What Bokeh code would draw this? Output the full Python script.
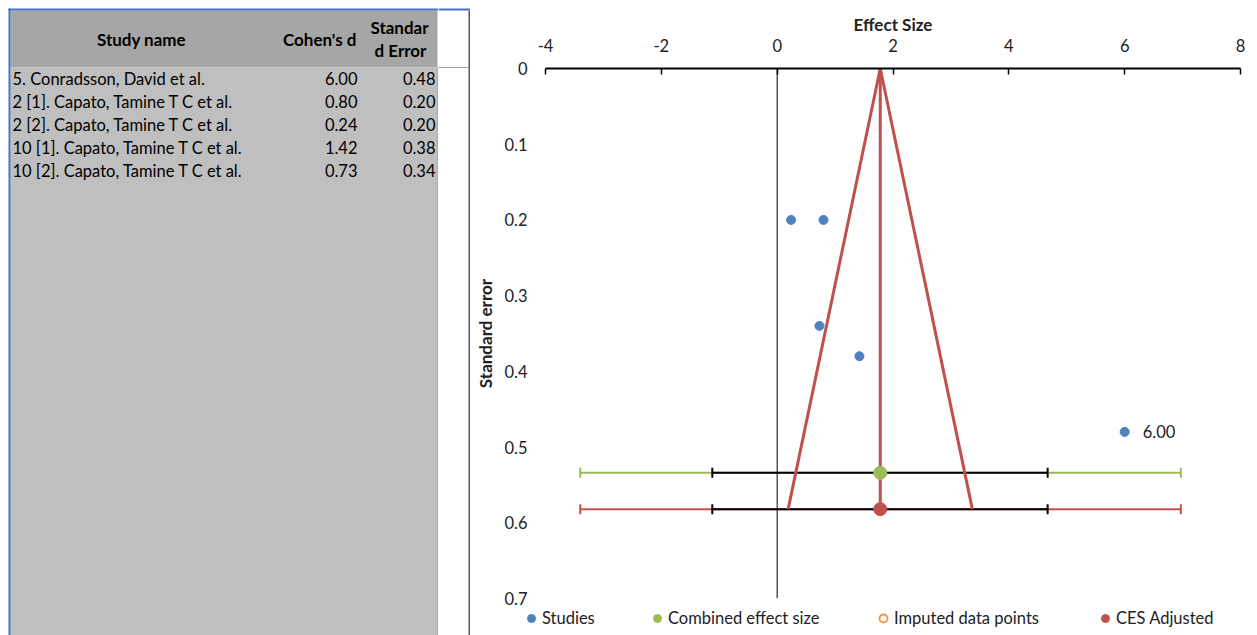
from bokeh.plotting import figure
from bokeh.models import (Range1d, FixedTicker, Span, Whisker, ColumnDataSource,
                          Legend, LegendItem, TeeHead)
from bokeh.layouts import row, column
from bokeh.embed import file_html
from bokeh.resources import INLINE
from bokeh.core.properties import value

# ---------------- data ----------------
study_names = [
    "5. Conradsson, David et al.",
    "2 [1]. Capato, Tamine T C et al.",
    "2 [2]. Capato, Tamine T C et al.",
    "10 [1]. Capato, Tamine T C et al.",
    "10 [2]. Capato, Tamine T C et al.",
]
cohens_d = [6.00, 0.80, 0.24, 1.42, 0.73]
std_err = [0.48, 0.20, 0.20, 0.38, 0.34]
labelled_study = [0]  # index of study carrying a data label

ces_x = [1.78]          # combined effect size
ces_y = [0.534]
ces_adj_x = [1.78]      # CES adjusted
ces_adj_y = [0.582]
ci_lower = [-1.12]
ci_upper = [4.67]
pi_lower = [-3.40]
pi_upper = [6.97]
funnel_x = [0.19, 1.78, 3.37]
funnel_y = [0.582, 0.0, 0.582]

x_ticks = [-4, -2, 0, 2, 4, 6, 8]
x_tick_labels = ["-4", "-2", "0", "2", "4", "6", "8"]
y_ticks = [0, 0.1, 0.2, 0.3, 0.4, 0.5, 0.6, 0.7]
y_tick_labels = ["0", "0.1", "0.2", "0.3", "0.4", "0.5", "0.6", "0.7"]

header_cols = ["Study name", "Cohen's d", "Standar", "d Error"]
legend_labels = ["Studies", "Combined effect size", "Imputed data points", "CES Adjusted"]

# ---------------- style ----------------
BLUE = "#4f81bd"
GREEN = "#9bbb59"
RED = "#c0504d"
ORANGE = "#f79646"
BORDER = "#4472c4"
TXT = "#222222"
FONT = "Lato"
FV = value(FONT)
H = 635


def blank(width, height, xr, yr):
    f = figure(width=width, height=height, output_backend="svg", toolbar_location=None,
               x_axis_location=None, y_axis_location=None, min_border=0,
               x_range=Range1d(*xr), y_range=Range1d(*yr), frame_align=False,
               outline_line_color=None, background_fill_color="white",
               border_fill_color="white")
    f.grid.visible = False
    return f


# ---------------- table (page pixel coordinates) ----------------
t = blank(438, H, (0, 438), (H, 0))
t.quad(left=[10], right=[437], top=[10], bottom=[67], fill_color="#a6a6a6", line_color=None)
t.quad(left=[10], right=[437], top=[67], bottom=[H], fill_color="#bfbfbf", line_color=None)
t.quad(left=[8], right=[10], top=[8], bottom=[H], fill_color=BORDER, line_color=None)
t.quad(left=[8], right=[438], top=[8], bottom=[10], fill_color=BORDER, line_color=None)
t.quad(left=[436.5], right=[438], top=[67], bottom=[H], fill_color=ORANGE, line_color=None)

hdr = dict(text_baseline="middle", text_font=FV, text_font_style="bold",
           text_font_size="17px", text_color="black")
t.text(x=[141], y=[39], text=[header_cols[0]], text_align="center", **hdr)
t.text(x=[356], y=[39], text=[header_cols[1]], text_align="right", **hdr)
t.text(x=[399, 400], y=[27, 50], text=header_cols[2:], text_align="center", **hdr)

row_y = [78 + 23 * i for i in range(len(study_names))]
cell = dict(text_baseline="middle", text_font=FV, text_font_size="16.5px", text_color="black")
t.text(x=[12] * len(study_names), y=row_y, text=study_names, text_align="left", **cell)
t.text(x=[357] * len(cohens_d), y=row_y, text=[f"{v:.2f}" for v in cohens_d],
       text_align="right", **cell)
t.text(x=[435] * len(std_err), y=row_y, text=[f"{v:.2f}" for v in std_err],
       text_align="right", **cell)

# ---------------- separator ----------------
s = blank(32, H, (438, 470), (H, 0))
s.quad(left=[438], right=[470], top=[8], bottom=[10], fill_color=BORDER, line_color=None)
s.quad(left=[468], right=[470], top=[10], bottom=[H], fill_color="#595959", line_color=None)
s.quad(left=[438], right=[468], top=[66.5], bottom=[67.5], fill_color="#a0a0a0", line_color=None)

# ---------------- top strip above chart ----------------
strip = blank(787, 10, (470, 1257), (10, 0))
strip.quad(left=[470], right=[1257], top=[8], bottom=[10], fill_color=BORDER, line_color=None)

# ---------------- funnel chart ----------------
p = figure(width=787, height=598, output_backend="svg", toolbar_location=None,
           x_range=Range1d(-4, 8), y_range=Range1d(0.7, 0), x_axis_location="above",
           min_border_left=75, min_border_right=17, min_border_top=57, min_border_bottom=10,
           frame_align=False, outline_line_color=None, background_fill_color="white")
p.grid.visible = False

xa = p.xaxis[0]
xa.ticker = FixedTicker(ticks=x_ticks)
xa.major_label_overrides = dict(zip(x_ticks, x_tick_labels))
xa.axis_label = "Effect Size"
xa.axis_label_text_font = FONT
xa.axis_label_text_font_style = "bold"
xa.axis_label_text_font_size = "17px"
xa.axis_label_text_color = TXT
xa.axis_label_standoff = 1
xa.major_label_text_font = FONT
xa.major_label_text_font_size = "16.5px"
xa.major_label_text_color = TXT
xa.major_label_standoff = 17
xa.major_tick_in = 6
xa.major_tick_out = 0
xa.minor_tick_in = 0
xa.minor_tick_out = 0
xa.axis_line_width = 2
xa.axis_line_color = "black"
xa.major_tick_line_color = "black"
xa.major_tick_line_width = 1.5

ya = p.yaxis[0]
ya.ticker = FixedTicker(ticks=y_ticks)
ya.major_label_overrides = dict(zip(y_ticks, y_tick_labels))
ya.axis_label = "Standard error"
ya.axis_label_text_font = FONT
ya.axis_label_text_font_style = "bold"
ya.axis_label_text_font_size = "17px"
ya.axis_label_text_color = TXT
ya.axis_label_standoff = 5
ya.major_label_text_font = FONT
ya.major_label_text_font_size = "16.5px"
ya.major_label_text_color = TXT
ya.major_label_standoff = 18
ya.major_tick_in = 0
ya.major_tick_out = 0
ya.minor_tick_in = 0
ya.minor_tick_out = 0
ya.axis_line_color = None
ya.major_tick_line_color = None
ya.minor_tick_line_color = None

# null-effect line
p.add_layout(Span(location=0, dimension="height", line_color="black", line_width=1))


# prediction intervals (coloured) and confidence intervals (black)
def whisk(base, lo, hi, color):
    src = ColumnDataSource(dict(base=base, lower=lo, upper=hi))
    w = Whisker(source=src, base="base", lower="lower", upper="upper", dimension="width",
                line_color=color, line_width=2,
                upper_head=TeeHead(size=10, line_color=color, line_width=2),
                lower_head=TeeHead(size=10, line_color=color, line_width=2))
    p.add_layout(w)


whisk(ces_y, pi_lower, pi_upper, GREEN)
whisk(ces_adj_y, pi_lower, pi_upper, RED)
whisk(ces_y, ci_lower, ci_upper, "black")
whisk(ces_adj_y, ci_lower, ci_upper, "black")

# funnel
p.line(funnel_x, funnel_y, line_color=RED, line_width=3)
p.line(ces_adj_x * 2, [0, ces_adj_y[0]], line_color=RED, line_width=3)

STYLES = [
    dict(size=9, fill_color=BLUE, line_color=BLUE),
    dict(size=13, fill_color=GREEN, line_color=GREEN),
    dict(size=8, fill_color=None, line_color=ORANGE, line_width=2),
    dict(size=13, fill_color=RED, line_color=RED),
]
p.scatter(cohens_d, std_err, **STYLES[0])
p.scatter(ces_x, ces_y, **STYLES[1])
p.scatter(x=[], y=[], **STYLES[2])   # no imputed studies
p.scatter(ces_adj_x, ces_adj_y, **STYLES[3])

p.text(x=[cohens_d[i] for i in labelled_study], y=[std_err[i] for i in labelled_study],
       text=[f"{cohens_d[i]:.2f}" for i in labelled_study], x_offset=18, text_align="left",
       text_baseline="middle", text_font=FV, text_font_size="16.5px", text_color=TXT)

# ---------------- legend strip under the chart ----------------
lf = blank(787, 27, (0, 1), (0, 1))
legend_x = [51, 177, 403, 625]
NAN = float("nan")
for lab, st, lx in zip(legend_labels, STYLES, legend_x):
    r = lf.scatter(x=[NAN], y=[NAN], **st)
    lg = Legend(items=[LegendItem(label=lab, renderers=[r])], location=(lx, 7),
                orientation="horizontal", glyph_width=20, glyph_height=20, label_standoff=1,
                padding=0, margin=0, border_line_color=None, background_fill_alpha=0,
                label_text_font=FONT, label_text_font_size="16.5px", label_text_color=TXT)
    lf.add_layout(lg)

layout = row(t, s, column(strip, p, lf))
open("out.html", "w").write(file_html(layout, INLINE))
